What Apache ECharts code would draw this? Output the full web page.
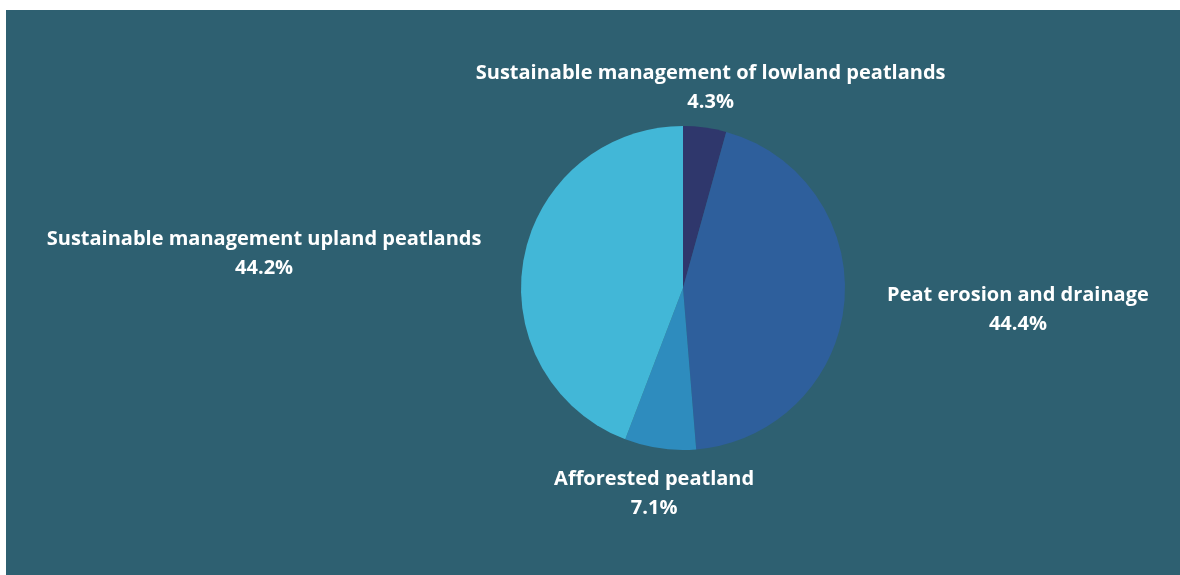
<!DOCTYPE html>
<html>
<head>
<meta charset="utf-8">
<script src="https://cdn.jsdelivr.net/npm/echarts@6/dist/echarts.min.js"></script>
<style>
  html, body { margin: 0; padding: 0; background: #ffffff; width: 1180px; height: 575px; overflow: hidden; }
  #chart { position: absolute; left: 6px; top: 10px; width: 1174px; height: 565px; }
</style>
</head>
<body>
<div id="chart"></div>
<script>
// Peatland emission shares (%)
const categories = [
  'Sustainable management of lowland peatlands',
  'Peat erosion and drainage',
  'Afforested peatland',
  'Sustainable management upland peatlands'
];
const shares = [4.3, 44.4, 7.1, 44.2];
const sliceColors = ['#2f376c', '#2e5f9c', '#2e8cbe', '#42b7d7'];

const chart = echarts.init(document.getElementById('chart'), null, { renderer: 'canvas' });

// pie geometry in the chart's own coordinates
const CX = 677, CY = 278, R = 162, LABEL_R = 205;
const total = shares.reduce((a, b) => a + b, 0);
const midAngles = [];
let acc = 0;
shares.forEach(v => { midAngles.push((acc + v / 2) / total * 2 * Math.PI); acc += v; });

chart.setOption({
  backgroundColor: '#2e6071',
  animation: false,
  series: [{
    type: 'pie',
    center: [CX, CY],
    radius: [0, R],
    startAngle: 90,
    clockwise: true,
    avoidLabelOverlap: false,
    data: categories.map((name, i) => ({
      name, value: shares[i], itemStyle: { color: sliceColors[i] }
    })),
    itemStyle: { borderWidth: 0 },
    emphasis: { disabled: true },
    label: {
      show: true,
      position: 'outside',
      overflow: 'none',
      formatter: p => p.name + '\n' + p.value.toFixed(1) + '%',
      color: '#ffffff',
      fontFamily: '"Open Sans", sans-serif',
      fontWeight: 'bold',
      fontSize: 20,
      lineHeight: 29
    },
    labelLine: { show: false },
    // each two-line label block sits just outside its slice, lines centred within the block
    labelLayout: params => {
      const a = midAngles[params.dataIndex];
      const s = Math.sin(a), c = Math.cos(a);
      const w = params.labelRect.width;
      let x = CX + s * LABEL_R;
      if (s > 0.5) x += w / 2;
      else if (s < -0.5) x -= w / 2;
      return {
        x,
        y: CY - c * LABEL_R + 2.5,
        align: 'center',
        verticalAlign: 'middle'
      };
    }
  }]
});
</script>
</body>
</html>
